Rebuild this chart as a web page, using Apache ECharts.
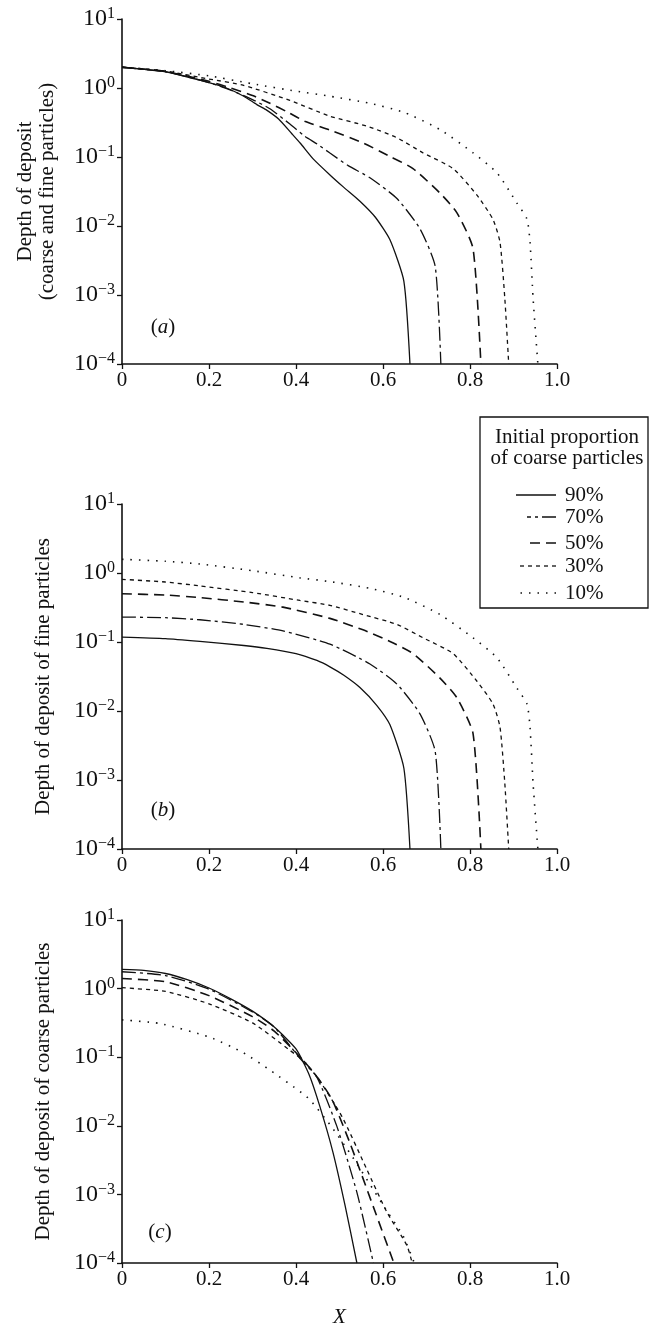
<!DOCTYPE html>
<html>
<head>
<meta charset="utf-8">
<script src="https://cdn.jsdelivr.net/npm/echarts@6/dist/echarts.min.js"></script>
<style>
  html, body { margin: 0; padding: 0; background: #fff; }
  #chart { width: 650px; height: 1329px; }
</style>
</head>
<body>
<div id="chart"></div>
<script>
// values: [X, depth]
const proportions = ['90%', '70%', '50%', '30%', '10%'];
const xTicks = [0, 0.2, 0.4, 0.6, 0.8, 1.0];

// (a) coarse and fine particles
const total90 = [[0, 2.0], [0.1, 1.72], [0.2, 1.2], [0.24, 1.0], [0.28, 0.76], [0.31, 0.575], [0.33, 0.49], [0.36, 0.355], [0.39, 0.219], [0.41, 0.158], [0.44, 0.093], [0.478, 0.055], [0.51, 0.0363], [0.547, 0.0229], [0.582, 0.0135], [0.616, 0.0063], [0.648, 0.00158], [0.662, 0.0001]];
const total70 = [[0, 2.0], [0.1, 1.72], [0.2, 1.2], [0.25, 0.93], [0.3, 0.68], [0.34, 0.5], [0.386, 0.3], [0.42, 0.2], [0.448, 0.155], [0.478, 0.114], [0.52, 0.075], [0.57, 0.05], [0.632, 0.025], [0.685, 0.0091], [0.72, 0.0026], [0.733, 0.0001]];
const total50 = [[0, 2.0], [0.1, 1.74], [0.2, 1.25], [0.25, 1.0], [0.3, 0.78], [0.34, 0.6], [0.38, 0.45], [0.42, 0.33], [0.478, 0.245], [0.554, 0.16], [0.616, 0.102], [0.669, 0.068], [0.731, 0.03], [0.77, 0.0155], [0.807, 0.0047], [0.825, 0.0001]];
const total30 = [[0, 2.0], [0.1, 1.76], [0.2, 1.35], [0.278, 1.1], [0.386, 0.66], [0.478, 0.39], [0.563, 0.28], [0.632, 0.19], [0.692, 0.115], [0.761, 0.068], [0.816, 0.028], [0.853, 0.0124], [0.869, 0.0058], [0.88, 0.0009], [0.889, 0.0001]];
const total10 = [[0, 2.0], [0.1, 1.78], [0.2, 1.5], [0.3, 1.15], [0.4, 0.9], [0.478, 0.76], [0.57, 0.6], [0.65, 0.44], [0.731, 0.25], [0.807, 0.115], [0.862, 0.059], [0.908, 0.0214], [0.931, 0.0126], [0.938, 0.0058], [0.945, 0.0009], [0.956, 0.0001]];

// (b) fine particles
const fine90 = [[0, 0.118], [0.1, 0.112], [0.179, 0.102], [0.28, 0.089], [0.333, 0.081], [0.4, 0.068], [0.448, 0.054], [0.478, 0.0437], [0.51, 0.033], [0.547, 0.0219], [0.586, 0.012], [0.616, 0.0063], [0.648, 0.00148], [0.662, 0.0001]];
const fine70 = [[0, 0.23], [0.1, 0.225], [0.179, 0.21], [0.28, 0.18], [0.37, 0.145], [0.478, 0.093], [0.57, 0.048], [0.632, 0.0245], [0.685, 0.0091], [0.72, 0.0026], [0.733, 0.0001]];
const fine50 = [[0, 0.5], [0.1, 0.48], [0.179, 0.44], [0.28, 0.38], [0.37, 0.32], [0.478, 0.22], [0.554, 0.15], [0.616, 0.102], [0.669, 0.068], [0.731, 0.03], [0.77, 0.0155], [0.807, 0.0047], [0.825, 0.0001]];
const fine30 = [[0, 0.81], [0.1, 0.74], [0.179, 0.65], [0.3, 0.52], [0.409, 0.4], [0.478, 0.34], [0.554, 0.25], [0.632, 0.18], [0.692, 0.115], [0.761, 0.068], [0.816, 0.027], [0.853, 0.0126], [0.869, 0.0058], [0.88, 0.0009], [0.889, 0.0001]];
const fine10 = [[0, 1.58], [0.1, 1.48], [0.179, 1.35], [0.3, 1.08], [0.409, 0.85], [0.478, 0.75], [0.57, 0.6], [0.65, 0.44], [0.731, 0.25], [0.807, 0.115], [0.862, 0.059], [0.908, 0.0214], [0.931, 0.0126], [0.938, 0.0058], [0.945, 0.0009], [0.956, 0.0001]];

// (c) coarse particles
const coarse90 = [[0, 1.905], [0.05, 1.84], [0.1, 1.66], [0.15, 1.35], [0.2, 1.02], [0.25, 0.71], [0.3, 0.47], [0.35, 0.275], [0.4, 0.132], [0.43, 0.056], [0.455, 0.019], [0.485, 0.0041], [0.513, 0.00068], [0.54, 0.0001]];
const coarse70 = [[0, 1.76], [0.1, 1.55], [0.2, 0.98], [0.3, 0.457], [0.35, 0.275], [0.41, 0.095], [0.448, 0.051], [0.494, 0.0098], [0.54, 0.00107], [0.578, 0.0001]];
const coarse50 = [[0, 1.4], [0.1, 1.26], [0.2, 0.79], [0.3, 0.39], [0.35, 0.24], [0.41, 0.1], [0.45, 0.05], [0.483, 0.024], [0.524, 0.0056], [0.577, 0.00068], [0.625, 0.0001]];
const coarse30 = [[0, 1.03], [0.1, 0.91], [0.2, 0.6], [0.3, 0.316], [0.386, 0.126], [0.42, 0.085], [0.45, 0.05], [0.506, 0.0135], [0.563, 0.0023], [0.609, 0.00055], [0.655, 0.00018], [0.667, 0.0001]];
const coarse10 = [[0, 0.35], [0.087, 0.31], [0.202, 0.195], [0.278, 0.117], [0.34, 0.065], [0.414, 0.03], [0.432, 0.024], [0.48, 0.01], [0.53, 0.0035], [0.57, 0.0014], [0.61, 0.00056], [0.646, 0.00025], [0.672, 0.0001]];

const panels = [
  { tag: 'a', name: 'Depth of deposit\n(coarse and fine particles)', lines: [total90, total70, total50, total30, total10] },
  { tag: 'b', name: 'Depth of deposit of fine particles', lines: [fine90, fine70, fine50, fine30, fine10] },
  { tag: 'c', name: 'Depth of deposit of coarse particles', lines: [coarse90, coarse70, coarse50, coarse30, coarse10] }
];

const FONT = '"Liberation Serif", "DejaVu Serif", serif';
const INK = '#111';
// line look for each proportion, same order as proportions
const dashes = ['solid', [14, 4, 3, 4], [10, 6], [4, 4], [1.5, 7]];
const widths = [1.3, 1.3, 1.6, 1.3, 1.6];
const gridTops = [19, 504, 920];

function powLabel(v) {
  const e = Math.round(Math.log10(v));
  return '{b|10}{s|' + (e < 0 ? '\u2212' + (-e) : e) + '}';
}

const grids = [], xAxes = [], yAxes = [], series = [];
panels.forEach(function (p, i) {
  grids.push({ left: 122, width: 435, top: gridTops[i], height: 345 });
  xAxes.push({
    type: 'value', gridIndex: i, min: xTicks[0], max: xTicks[xTicks.length - 1], interval: 0.2,
    name: i === 2 ? 'X' : '', nameLocation: 'middle', nameGap: 44,
    nameTextStyle: { fontFamily: FONT, fontSize: 21, fontStyle: 'italic', color: INK },
    axisLine: { lineStyle: { color: INK, width: 1.6 } },
    axisTick: { length: 5, lineStyle: { color: INK, width: 1.3 } },
    splitLine: { show: false },
    axisLabel: {
      fontFamily: FONT, fontSize: 21, color: INK, margin: 6,
      formatter: function (v) { return v === 0 ? '0' : v.toFixed(1); }
    }
  });
  yAxes.push({
    type: 'log', logBase: 10, gridIndex: i, min: 0.0001, max: 10,
    name: p.name, nameLocation: 'middle', nameRotate: 90, nameGap: i === 0 ? 64 : 68,
    nameTextStyle: { fontFamily: FONT, fontSize: 21, color: INK, lineHeight: 22 },
    axisLine: { show: true, onZero: false, lineStyle: { color: INK, width: 1.6 } },
    axisTick: { length: 5, lineStyle: { color: INK, width: 1.3 } },
    minorTick: { show: false },
    splitLine: { show: false },
    axisLabel: {
      margin: 7, formatter: powLabel,
      rich: {
        b: { fontFamily: FONT, fontSize: 24, color: INK, lineHeight: 26 },
        s: { fontFamily: FONT, fontSize: 16, color: INK, verticalAlign: 'top', lineHeight: 17 }
      }
    }
  });
  p.lines.forEach(function (d, k) {
    series.push({
      type: 'line', name: proportions[k], xAxisIndex: i, yAxisIndex: i,
      data: d, showSymbol: false, symbol: 'none', smooth: 0.2,
      lineStyle: { color: INK, width: widths[k], type: dashes[k] },
      silent: true, animation: false
    });
  });
});

// panel tags and the boxed key
const tagPos = [[163, 327], [163, 810], [160, 1232]];
const graphics = panels.map(function (p, i) {
  return {
    type: 'text', x: tagPos[i][0], y: tagPos[i][1],
    style: {
      text: '{n|(}{i|' + p.tag + '}{n|)}', align: 'center', verticalAlign: 'middle',
      rich: {
        n: { fontFamily: FONT, fontSize: 21, fill: INK },
        i: { fontFamily: FONT, fontSize: 21, fontStyle: 'italic', fill: INK }
      }
    }
  };
});
graphics.push({ type: 'rect', shape: { x: 480, y: 417, width: 168, height: 191 }, style: { fill: '#fff', stroke: INK, lineWidth: 1.3 } });
graphics.push({ type: 'text', x: 567, y: 437, style: { text: 'Initial proportion', font: '21px ' + FONT, fill: INK, align: 'center', verticalAlign: 'middle' } });
graphics.push({ type: 'text', x: 567, y: 458, style: { text: 'of coarse particles', font: '21px ' + FONT, fill: INK, align: 'center', verticalAlign: 'middle' } });
const keyY = [495, 517, 543, 566, 593];
const keyStart = [516, 527, 527, 517, 517];
proportions.forEach(function (lab, k) {
  graphics.push({
    type: 'line', shape: { x1: 556, y1: keyY[k], x2: keyStart[k], y2: keyY[k] },
    style: { stroke: INK, lineWidth: widths[k], lineDash: dashes[k] === 'solid' ? null : dashes[k] }
  });
  graphics.push({ type: 'text', x: 565, y: keyY[k], style: { text: lab, font: '21px ' + FONT, fill: INK, align: 'left', verticalAlign: 'middle' } });
});

const chart = echarts.init(document.getElementById('chart'), null, { renderer: 'canvas' });
chart.setOption({
  backgroundColor: '#fff',
  animation: false,
  grid: grids,
  xAxis: xAxes,
  yAxis: yAxes,
  series: series,
  graphic: graphics
});
</script>
</body>
</html>
